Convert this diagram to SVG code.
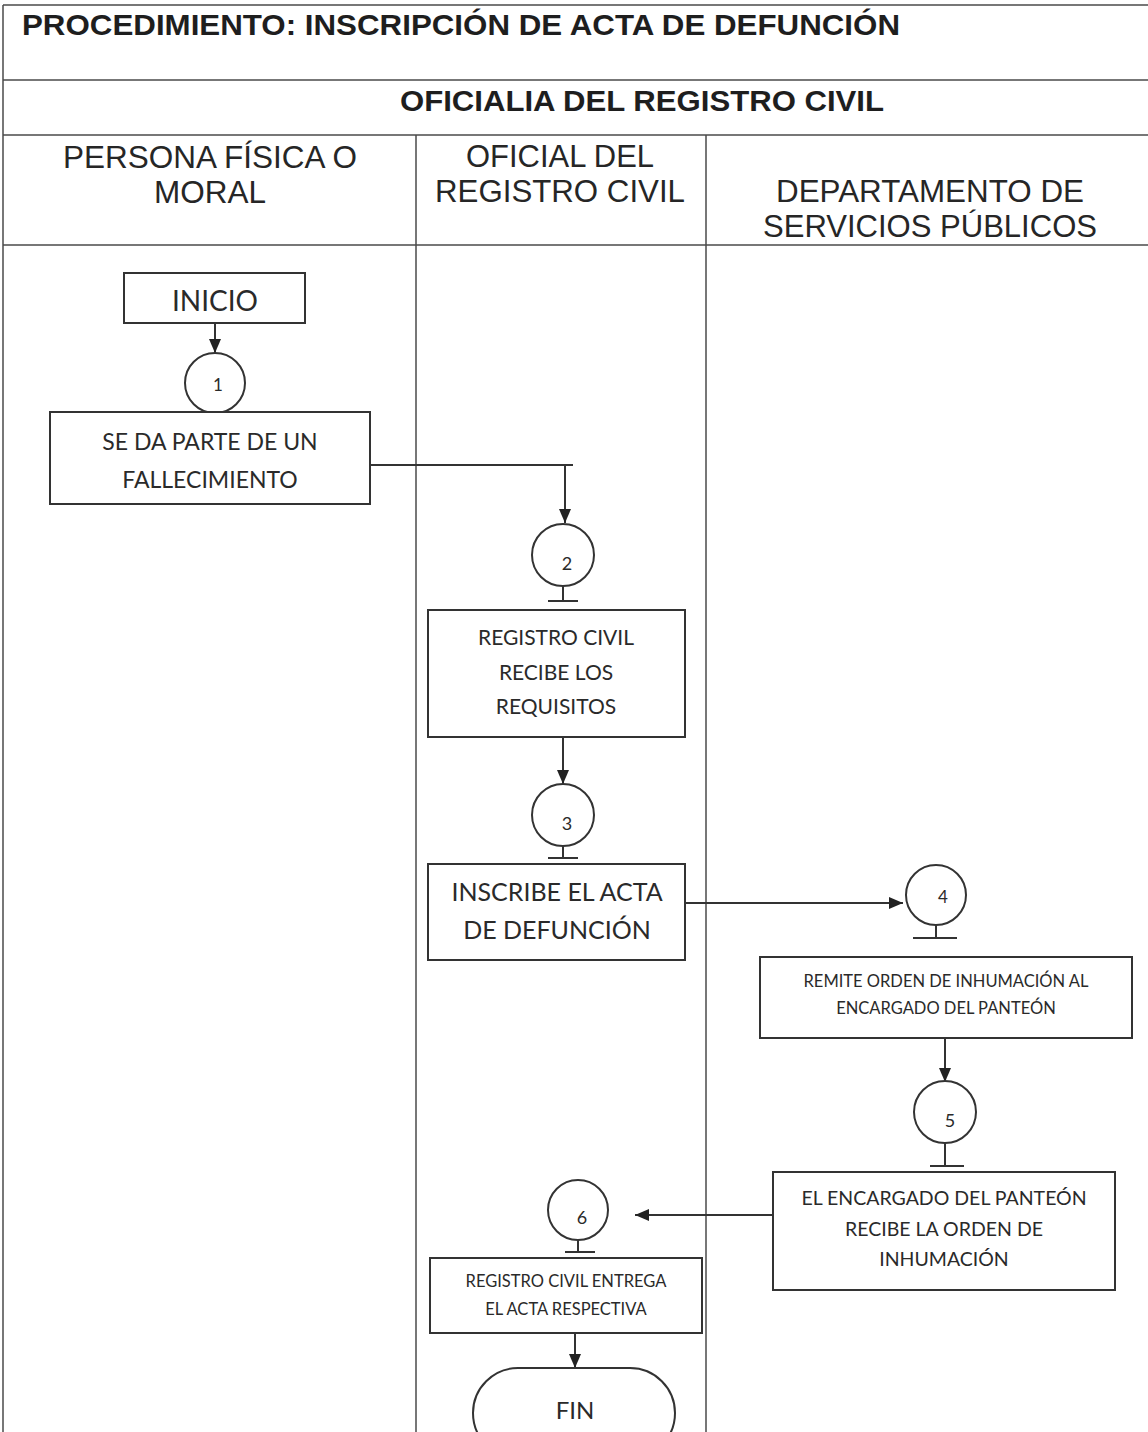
<svg xmlns="http://www.w3.org/2000/svg" width="1148" height="1432" viewBox="0 0 1148 1432">
  <style>
    .grid { stroke: #4a4a4a; stroke-width: 1.5; fill: none; }
    .box { fill: #ffffff; stroke: #333333; stroke-width: 2; }
    .conn { stroke: #333333; stroke-width: 2; fill: none; }
    .hdr { font-family: "Liberation Sans", Arial, sans-serif; fill: #262626; text-anchor: middle; }
    .ttl { font-family: "Liberation Sans", Arial, sans-serif; font-weight: bold; fill: #1e1e1e; }
    .lbl { font-family: Lato, "Open Sans", sans-serif; fill: #2a2a2a; text-anchor: middle; }
  </style>
  <defs>
    <marker id="arrow" viewBox="0 0 14 14" refX="14" refY="7" markerWidth="14" markerHeight="14" markerUnits="userSpaceOnUse" orient="auto">
      <path d="M0,1 L14,7 L0,13 z" fill="#222222"/>
    </marker>
  </defs>
  <rect x="0" y="0" width="1148" height="1432" fill="#ffffff"/>

  <!-- table frame -->
  <g id="frame">
    <line class="grid" x1="3" y1="5" x2="1148" y2="5"/>
    <line class="grid" x1="3" y1="5" x2="3" y2="1432"/>
    <line class="grid" x1="3" y1="80" x2="1148" y2="80"/>
    <line class="grid" x1="3" y1="135" x2="1148" y2="135"/>
    <line class="grid" x1="3" y1="245" x2="1148" y2="245"/>
    <line class="grid" x1="416" y1="135" x2="416" y2="1432"/>
    <line class="grid" x1="706" y1="135" x2="706" y2="1432"/>
  </g>

  <!-- headings -->
  <g id="headings">
    <text class="ttl" x="22" y="35" font-size="30" textLength="878" lengthAdjust="spacingAndGlyphs">PROCEDIMIENTO: INSCRIPCIÓN DE ACTA DE DEFUNCIÓN</text>
    <text class="ttl" x="642" y="111" font-size="29" text-anchor="middle" textLength="484" lengthAdjust="spacingAndGlyphs">OFICIALIA DEL REGISTRO CIVIL</text>
    <text class="hdr" x="210" y="168" font-size="31" textLength="294" lengthAdjust="spacingAndGlyphs">PERSONA FÍSICA O</text>
    <text class="hdr" x="210" y="203" font-size="31" textLength="112" lengthAdjust="spacingAndGlyphs">MORAL</text>
    <text class="hdr" x="560" y="167" font-size="31" textLength="188" lengthAdjust="spacingAndGlyphs">OFICIAL DEL</text>
    <text class="hdr" x="560" y="202" font-size="31" textLength="250" lengthAdjust="spacingAndGlyphs">REGISTRO CIVIL</text>
    <text class="hdr" x="930" y="202" font-size="31" textLength="308" lengthAdjust="spacingAndGlyphs">DEPARTAMENTO DE</text>
    <text class="hdr" x="930" y="237" font-size="31" textLength="334" lengthAdjust="spacingAndGlyphs">SERVICIOS PÚBLICOS</text>
  </g>

  <!-- connectors -->
  <g id="connectors">
    <line class="conn" x1="215" y1="323" x2="215" y2="353" marker-end="url(#arrow)"/>
    <polyline class="conn" points="370,465 573,465"/>
    <line class="conn" x1="565" y1="465" x2="565" y2="523" marker-end="url(#arrow)"/>
    <line class="conn" x1="563" y1="737" x2="563" y2="784" marker-end="url(#arrow)"/>
    <line class="conn" x1="685" y1="903" x2="903" y2="903" marker-end="url(#arrow)"/>
    <line class="conn" x1="945" y1="1038" x2="945" y2="1082" marker-end="url(#arrow)"/>
    <line class="conn" x1="773" y1="1215" x2="635" y2="1215" marker-end="url(#arrow)"/>
    <line class="conn" x1="575" y1="1333" x2="575" y2="1368" marker-end="url(#arrow)"/>
  </g>

  <!-- nodes -->
  <g id="inicio">
    <rect class="box" x="124" y="273" width="181" height="50"/>
    <text class="lbl" x="215" y="311" font-size="28">INICIO</text>
  </g>

  <g id="c1">
    <circle class="box" cx="215" cy="383" r="30"/>
    <text class="lbl" x="218" y="391" font-size="17">1</text>
  </g>

  <g id="paso1">
    <rect class="box" x="50" y="412" width="320" height="92"/>
    <text class="lbl" x="210" y="450" font-size="23">SE DA PARTE DE UN</text>
    <text class="lbl" x="210" y="488" font-size="23">FALLECIMIENTO</text>
  </g>

  <g id="c2">
    <circle class="box" cx="563" cy="555" r="31"/>
    <text class="lbl" x="567" y="570" font-size="18">2</text>
    <line class="conn" x1="563" y1="586" x2="563" y2="601"/>
    <line class="conn" x1="548" y1="601" x2="578" y2="601"/>
  </g>

  <g id="paso2">
    <rect class="box" x="428" y="610" width="257" height="127"/>
    <text class="lbl" x="556" y="645" font-size="21">REGISTRO CIVIL</text>
    <text class="lbl" x="556" y="680" font-size="21">RECIBE LOS</text>
    <text class="lbl" x="556" y="714" font-size="21">REQUISITOS</text>
  </g>

  <g id="c3">
    <circle class="box" cx="563" cy="815" r="31"/>
    <text class="lbl" x="567" y="830" font-size="18">3</text>
    <line class="conn" x1="563" y1="846" x2="563" y2="858"/>
    <line class="conn" x1="548" y1="858" x2="578" y2="858"/>
  </g>

  <g id="paso3">
    <rect class="box" x="428" y="864" width="257" height="96"/>
    <text class="lbl" x="557" y="901" font-size="25">INSCRIBE EL ACTA</text>
    <text class="lbl" x="557" y="939" font-size="25">DE DEFUNCIÓN</text>
  </g>

  <g id="c4">
    <circle class="box" cx="936" cy="895" r="30"/>
    <text class="lbl" x="943" y="903" font-size="17">4</text>
    <line class="conn" x1="936" y1="925" x2="936" y2="938"/>
    <line class="conn" x1="913" y1="938" x2="957" y2="938"/>
  </g>

  <g id="paso4">
    <rect class="box" x="760" y="957" width="372" height="81"/>
    <text class="lbl" x="946" y="987" font-size="16.5">REMITE ORDEN DE INHUMACIÓN AL</text>
    <text class="lbl" x="946" y="1014" font-size="16.5">ENCARGADO DEL PANTEÓN</text>
  </g>

  <g id="c5">
    <circle class="box" cx="945" cy="1112" r="31"/>
    <text class="lbl" x="950" y="1127" font-size="18">5</text>
    <line class="conn" x1="945" y1="1143" x2="945" y2="1166"/>
    <line class="conn" x1="930" y1="1166" x2="964" y2="1166"/>
  </g>

  <g id="paso5">
    <rect class="box" x="773" y="1172" width="342" height="118"/>
    <text class="lbl" x="944" y="1205" font-size="19.5">EL ENCARGADO DEL PANTEÓN</text>
    <text class="lbl" x="944" y="1236" font-size="19.5">RECIBE LA ORDEN DE</text>
    <text class="lbl" x="944" y="1266" font-size="19.5">INHUMACIÓN</text>
  </g>

  <g id="c6">
    <circle class="box" cx="578" cy="1210" r="30"/>
    <text class="lbl" x="582" y="1224" font-size="18">6</text>
    <line class="conn" x1="578" y1="1240" x2="578" y2="1252"/>
    <line class="conn" x1="565" y1="1252" x2="595" y2="1252"/>
  </g>

  <g id="paso6">
    <rect class="box" x="430" y="1258" width="272" height="75"/>
    <text class="lbl" x="566" y="1287" font-size="16.5">REGISTRO CIVIL ENTREGA</text>
    <text class="lbl" x="566" y="1315" font-size="16.5">EL ACTA RESPECTIVA</text>
  </g>

  <g id="fin">
    <rect class="box" x="473" y="1368" width="202" height="90" rx="45" ry="45"/>
    <text class="lbl" x="575" y="1419" font-size="24">FIN</text>
  </g>
</svg>
